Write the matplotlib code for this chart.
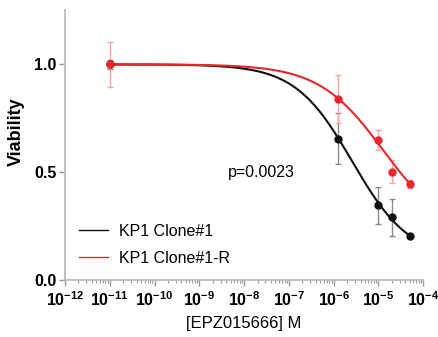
import numpy as np
import matplotlib
matplotlib.use("Agg")
import matplotlib.pyplot as plt
from matplotlib.ticker import LogLocator, NullFormatter, FixedLocator

plt.rcParams['font.family'] = ['Liberation Sans', 'DejaVu Sans']

# Dose (M) and mean viability with SD for each clone
dose = [1e-11, 1.25e-6, 1e-5, 2e-5, 5e-5]
parental_mean = [1.0, 0.656, 0.347, 0.290, 0.204]
parental_sd = [0.02, 0.12, 0.086, 0.084, 0.006]
resistant_mean = [1.0, 0.838, 0.651, 0.503, 0.444]
resistant_sd = [0.105, 0.112, 0.046, 0.055, 0.018]

# Four-parameter logistic fits: top, bottom, IC50 (M), Hill slope
parental_fit = (1.0, 0.10, 2.6e-6, 0.68)
resistant_fit = (1.0, 0.20, 1.3e-5, 0.60)

labels = ["KP1 Clone#1", "KP1 Clone#1-R"]
p_text = "p=0.0023"


def logistic(x, top, bottom, ic50, hill):
    return bottom + (top - bottom) / (1 + (x / ic50) ** hill)


fig = plt.figure(figsize=(4.39, 3.37), dpi=100)
ax = fig.add_axes([0.148, 0.169, 0.816, 0.80])

xs = np.logspace(np.log10(dose[0]), np.log10(dose[-1]), 300)
series = [
    (parental_mean, parental_sd, parental_fit, "#111111", "#8a8a8a"),
    (resistant_mean, resistant_sd, resistant_fit, "#e8262b", "#f3a5a7"),
]
for (mean, sd, fit, col, ecol), lab in zip(series, labels):
    ax.errorbar(dose, mean, yerr=sd, fmt="none", ecolor=ecol,
                elinewidth=1, capsize=2.3, capthick=1, zorder=2)
    ax.plot(xs, logistic(xs, *fit), color=col, lw=1.5, zorder=3)
    ax.plot(dose, mean, "o", color=col, ms=5, zorder=4)
    ax.plot([], [], color=col, lw=1, label=lab)

ax.set_xscale("log")
ax.set_xlim(1e-12, 1e-4)
ax.set_ylim(0, 1.25)
ax.xaxis.set_major_locator(LogLocator(base=10, numticks=20))
ax.xaxis.set_minor_locator(LogLocator(base=10, subs=np.arange(2, 10), numticks=100))
ax.xaxis.set_minor_formatter(NullFormatter())
ax.yaxis.set_major_locator(FixedLocator([0.0, 0.5, 1.0]))
ax.set_yticklabels(["0.0", "0.5", "1.0"])

for s in ["top", "right"]:
    ax.spines[s].set_visible(False)
for s in ["left", "bottom"]:
    ax.spines[s].set_color("#b5b5b5")
    ax.spines[s].set_linewidth(1.2)
ax.tick_params(axis="both", which="major", color="#9a9a9a", length=4, width=1,
               labelsize=11.5)
ax.tick_params(axis="y", which="major", pad=2)
ax.tick_params(axis="x", which="minor", color="#9a9a9a", length=2, width=0.8)
for t in ax.get_xticklabels() + ax.get_yticklabels():
    t.set_fontweight("bold")

ax.set_ylabel("Viability", fontsize=13, fontweight="bold")
ax.yaxis.set_label_coords(-0.112, 0.55)
ax.set_xlabel("[EPZ015666] M", fontsize=12, labelpad=5)
ax.text(10 ** -7.62, 0.5, p_text, ha="center", va="center", fontsize=11.5)

ax.legend(loc="lower left", bbox_to_anchor=(0.0, 0.0), frameon=False,
          fontsize=11.5, handlelength=1.8, handletextpad=0.7, labelspacing=0.75)

fig.savefig("out.png", dpi=100)
